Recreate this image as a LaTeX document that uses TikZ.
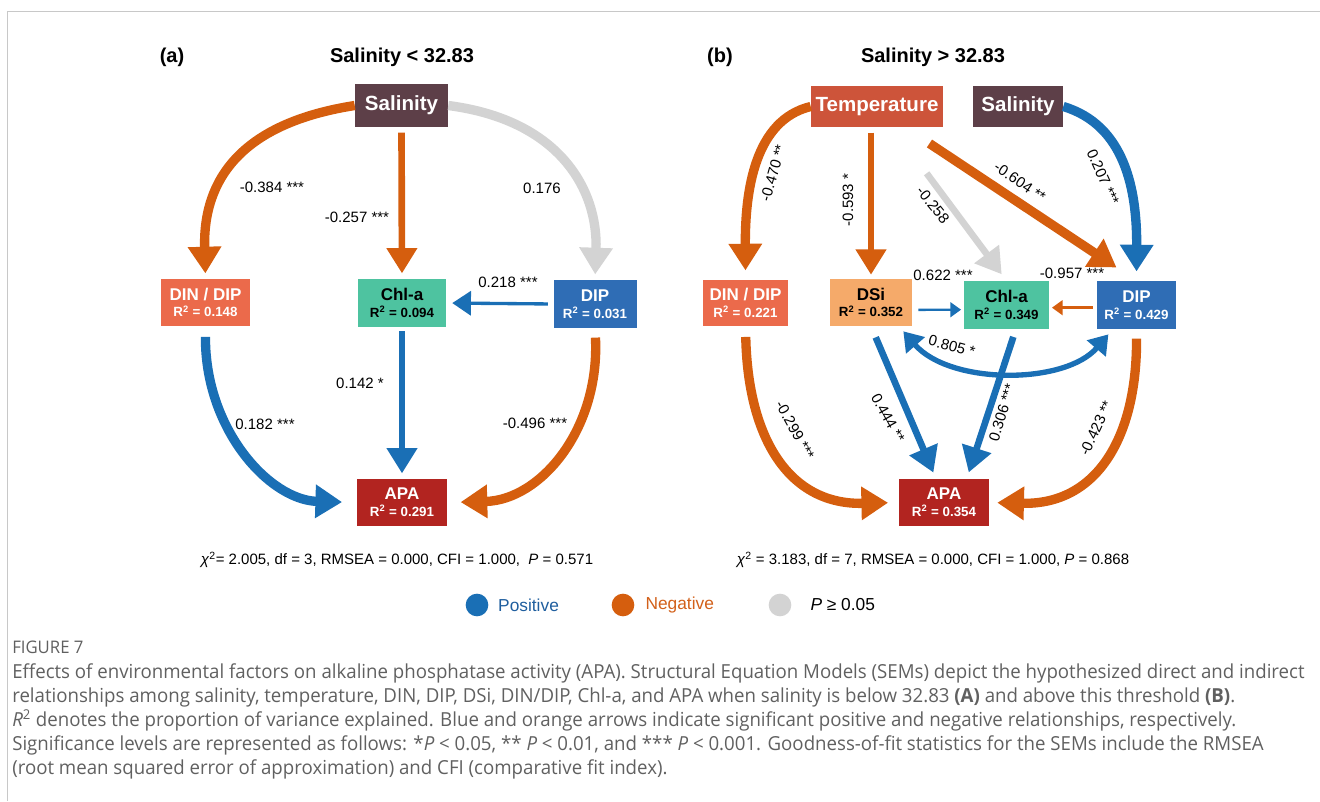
\documentclass[tikz,border=0pt]{standalone}
\usepackage{fontspec}
\setmainfont{Liberation Sans}
\newfontfamily\capfont[FakeStretch=0.965]{Open Sans}
\usetikzlibrary{positioning,arrows.meta}
\definecolor{salcol}{HTML}{5D3F48}
\definecolor{tempcol}{HTML}{CD543A}
\definecolor{dindipcol}{HTML}{EB6A4B}
\definecolor{chlcol}{HTML}{4EC3A0}
\definecolor{dipcol}{HTML}{2F6DB5}
\definecolor{dsicol}{HTML}{F5AA6A}
\definecolor{apacol}{HTML}{B22420}
\definecolor{posblue}{HTML}{1A6FB5}
\definecolor{negorange}{HTML}{D55E0E}
\definecolor{nsgrey}{HTML}{D3D3D3}
\definecolor{capgrey}{HTML}{606060}
\definecolor{framegrey}{HTML}{C8C8C8}
\definecolor{legblue}{HTML}{1F5E9E}
\definecolor{legorange}{HTML}{D2601A}

\newcommand{\rsq}[1]{{\fontsize{10pt}{12pt}\selectfont R\textsuperscript{2} = #1}}

\begin{document}
\begin{tikzpicture}[x=0.75pt, y=-0.75pt,
    varbox/.style={fill=#1, text=white, inner sep=0pt, align=center,
        font=\bfseries\fontsize{12.75pt}{12.5pt}\selectfont},
    headbox/.style={fill=#1, text=white, inner sep=0pt,
        font=\bfseries\fontsize{15.4pt}{17pt}\selectfont},
    coef/.style={inner sep=0pt, font=\fontsize{11.25pt}{13pt}\selectfont},
    paneltitle/.style={inner sep=0pt, font=\bfseries\fontsize{15pt}{17pt}\selectfont},
    fitstat/.style={inner sep=0pt, font=\fontsize{11.25pt}{13pt}\selectfont},
    legdot/.style={circle, fill=#1, inner sep=0pt, minimum size=17pt},
    legtext/.style={inner sep=0pt, font=\fontsize{13pt}{15pt}\selectfont},
    capline/.style={inner sep=0pt, anchor=base west, text=capgrey,
        font=\capfont\fontsize{14.5pt}{16pt}\selectfont},
    bigarr/.style={line width=7pt, -{Triangle[width=24pt,length=20pt]}},
    midarr/.style={line width=5pt, -{Triangle[width=22pt,length=19pt]}},
    smallarr/.style={line width=2.5pt, -{Triangle[width=18pt,length=14pt]}},
    slimarr/.style={line width=1.8pt, -{Triangle[width=11pt,length=8pt]}},
    dblarr/.style={line width=4pt, {Triangle[width=18pt,length=14pt]}-{Triangle[width=18pt,length=14pt]}},
    posarr/.style={draw=posblue},
    negarr/.style={draw=negorange},
    nsarr/.style={draw=nsgrey},
]
    \useasboundingbox (0,0) rectangle (1320,801);
    \draw[framegrey, line width=0.75pt] (7,801) -- (7,11) -- (1320,11);

    % (a) salinity < 32.83
    \node[paneltitle] (labA) at (172,57) {(a)};
    \node[paneltitle] (titA) at (402,57) {Salinity < 32.83};

    \node[headbox=salcol, minimum width=69.75pt, minimum height=32.25pt] (salA) at (401.5,105.5) {Salinity};
    \node[varbox=dindipcol, minimum width=66.75pt, minimum height=35.25pt] (dindipA) at (205.5,302.5) {DIN / DIP\\\rsq{0.148}};
    \node[varbox=chlcol, text=black, minimum width=66pt, minimum height=36pt] (chlA) at (402,303) {Chl-a\\\rsq{0.094}};
    \node[varbox=dipcol, minimum width=62.25pt, minimum height=36pt] (dipA) at (595,304) {DIP\\\rsq{0.031}};
    \node[varbox=apacol, minimum width=67.5pt, minimum height=35.25pt] (apaA) at (402,502.5) {APA\\\rsq{0.291}};

    \draw[bigarr, negarr, shorten >=4pt] (salA.west) .. controls (230,125) and (203,190) .. (dindipA.north);
    \draw[midarr, negarr, shorten <=4pt, shorten >=4pt] (salA.south) -- (chlA.north);
    \draw[bigarr, nsarr, shorten >=4pt] (salA.east) .. controls (560,120) and (598,190) .. (dipA.north);
    \draw[smallarr, posarr, shorten <=4pt, shorten >=4.5pt] (dipA.west) -- (chlA.east);
    \draw[bigarr, posarr, shorten <=8pt, shorten >=11pt] (dindipA.south) .. controls (205,430) and (270,500) .. (apaA.west);
    \draw[midarr, posarr, shorten <=3pt, shorten >=4pt] (chlA.south) -- (apaA.north);
    \draw[bigarr, negarr, shorten <=7pt, shorten >=10pt] (dipA.south) .. controls (600,430) and (540,500) .. (apaA.east);

    \node[coef] (cA1) at (272,187) {-0.384 ***};
    \node[coef] (cA2) at (357,217) {-0.257 ***};
    \node[coef] (cA3) at (542,188) {0.176};
    \node[coef] (cA4) at (508,282) {0.218 ***};
    \node[coef] (cA5) at (265,424) {0.182 ***};
    \node[coef] (cA6) at (360,383) {0.142 *};
    \node[coef] (cA7) at (535,423) {-0.496 ***};

    \node[fitstat] (fitA) at (397,560) {\textit{χ}\textsuperscript{2}= 2.005, df = 3, RMSEA = 0.000, CFI = 1.000,\ \ \textit{P} = 0.571};

    % (b) salinity > 32.83
    \node[paneltitle] (labB) at (720,57) {(b)};
    \node[paneltitle] (titB) at (933,57) {Salinity > 32.83};

    \node[headbox=tempcol, minimum width=99pt, minimum height=30.75pt] (tempB) at (877,106.5) {Temperature};
    \node[headbox=salcol, minimum width=67.5pt, minimum height=30.75pt] (salB) at (1018,106.5) {Salinity};
    \node[varbox=dindipcol, minimum width=63.75pt, minimum height=34.5pt] (dindipB) at (745.5,303) {DIN / DIP\\\rsq{0.221}};
    \node[varbox=dsicol, text=black, minimum width=61.5pt, minimum height=35.25pt] (dsiB) at (871,302.5) {DSi\\\rsq{0.352}};
    \node[varbox=chlcol, text=black, minimum width=63.75pt, minimum height=36pt] (chlB) at (1006.5,305) {Chl-a\\\rsq{0.349}};
    \node[varbox=dipcol, minimum width=59.25pt, minimum height=36pt] (dipB) at (1136.5,305) {DIP\\\rsq{0.429}};
    \node[varbox=apacol, minimum width=67.5pt, minimum height=35.25pt] (apaB) at (944,502.5) {APA\\\rsq{0.354}};

    \draw[bigarr, negarr, shorten >=7pt] (tempB.west) .. controls (755,120) and (745,190) .. (dindipB.north);
    \draw[midarr, negarr, shorten <=4pt, shorten >=3pt] (tempB.south -| dsiB.north) -- (dsiB.north);
    \draw[midarr, nsarr, shorten <=43pt, shorten >=6pt] (tempB) -- (chlB.north);
    \draw[bigarr, negarr, shorten <=22pt, shorten >=18pt] ([xshift=21pt]tempB.south) -- (dipB.north);
    \draw[bigarr, posarr, shorten >=7pt] (salB.east) .. controls (1125,125) and (1137,190) .. (dipB.north);
    \draw[slimarr, posarr, shorten <=4.5pt, shorten >=2pt] ([yshift=-5.5pt]dsiB.east) -- ([yshift=-3.5pt]chlB.west);
    \draw[slimarr, negarr, shorten <=3pt, shorten >=2pt] ([yshift=-2pt]dipB.west) -- ([yshift=-2pt]chlB.east);
    \draw[dblarr, posarr, shorten <=5pt, shorten >=5pt] ([xshift=-10pt]dsiB.south east) .. controls (950,385) and (1065,385) .. ([xshift=12pt]dipB.south west);
    \draw[midarr, posarr, shorten <=9pt, shorten >=5pt] (dsiB.south) -- ([xshift=-6pt]apaB.north);
    \draw[midarr, posarr, shorten <=6pt, shorten >=5pt] ([xshift=7pt]chlB.south) -- ([xshift=17pt]apaB.north);
    \draw[bigarr, negarr, shorten <=8pt, shorten >=8pt] (dindipB.south) .. controls (748,440) and (790,505) .. (apaB.west);
    \draw[bigarr, negarr, shorten <=7pt, shorten >=6pt] (dipB.south) .. controls (1137,440) and (1095,505) .. (apaB.east);

    \node[coef, rotate=74] (cB1) at (773,173) {-0.470 **};
    \node[coef, rotate=90] (cB2) at (848,200) {-0.593 *};
    \node[coef, rotate=-51] (cB3) at (933,205) {-0.258};
    \node[coef, rotate=-34] (cB4) at (1020,182) {-0.604 **};
    \node[coef, rotate=-66] (cB5) at (1103,177) {0.207 ***};
    \node[coef] (cB6) at (943,275) {0.622 ***};
    \node[coef] (cB7) at (1072,273) {-0.957 ***};
    \node[coef, rotate=-15] (cB8) at (952,346) {0.805 *};
    \node[coef, rotate=-61] (cB9) at (888,418) {0.444 **};
    \node[coef, rotate=73] (cB10) at (1002,413) {0.306 ***};
    \node[coef, rotate=-61] (cB11) at (795,430) {-0.299 ***};
    \node[coef, rotate=65] (cB12) at (1096,428) {-0.423 **};

    \node[fitstat] (fitB) at (933,560) {\textit{χ}\textsuperscript{2} = 3.183, df = 7, RMSEA = 0.000, CFI = 1.000, \textit{P} = 0.868};

    % legend
    \node[legdot=posblue] (dotPos) at (477,605) {};
    \node[legtext, text=legblue, right=7pt of dotPos] (txtPos) {Positive};
    \node[legdot=negorange] (dotNeg) at (623,605) {};
    \node[legtext, text=legorange, right=8pt of dotNeg] (txtNeg) {Negative};
    \node[legdot=nsgrey] (dotNs) at (780,605) {};
    \node[legtext, right=14pt of dotNs] (txtNs) {\textit{P} ≥ 0.05};

    % caption
    \node[capline, font=\capfont\fontsize{13pt}{14pt}\selectfont] (figno) at (12,653) {FIGURE 7};
    \node[capline] (cap1) at (12,678) {Effects of environmental factors on alkaline phosphatase activity (APA). Structural Equation Models (SEMs) depict the hypothesized direct and indirect};
    \node[capline] (cap2) at (12,702) {relationships among salinity, temperature, DIN, DIP, DSi, DIN/DIP, Chl-a, and APA when salinity is below 32.83 \textbf{(A)} and above this threshold \textbf{(B)}.};
    \node[capline] (cap3) at (12,726) {\textit{R}\textsuperscript{2} denotes the proportion of variance explained. Blue and orange arrows indicate significant positive and negative relationships, respectively.};
    \node[capline] (cap4) at (12,750) {Significance levels are represented as follows: *\textit{P} < 0.05, ** \textit{P} < 0.01, and *** \textit{P} < 0.001. Goodness-of-fit statistics for the SEMs include the RMSEA};
    \node[capline] (cap5) at (12,774) {(root mean squared error of approximation) and CFI (comparative fit index).};
\end{tikzpicture}
\end{document}
